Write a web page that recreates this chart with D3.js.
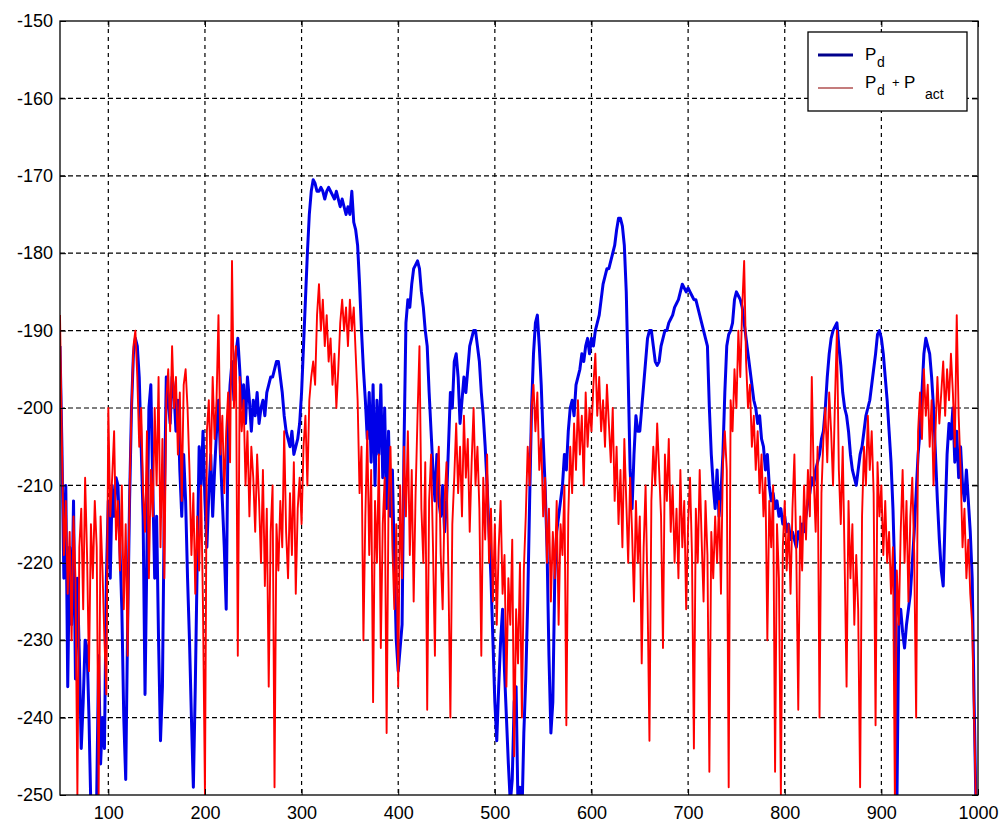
<!DOCTYPE html>
<html>
<head>
<meta charset="utf-8">
<script src="https://cdn.jsdelivr.net/npm/d3@7"></script>
<style>
body{margin:0;background:#fff;}
text{font-family:"Liberation Sans",Arial,sans-serif;fill:#000;}
</style>
</head>
<body>
<svg id="chart" width="1001" height="822"></svg>
<script>
// samples start at 50 and are spaced every 2 units
var xStart = 50;
var xStep = 2;

// P_d (blue)
var pd = [
-192,-205,-222,-210,-236,-218,-228,-212,-235,-222,
-232,-244,-238,-230,-231,-240,-252,-251,-253,-250,
-232,-246,-240,-244,-222,-212,-222,-210,-214,-209,
-210,-218,-226,-240,-248,-228,-212,-200,-193,-191,
-192,-196,-205,-214,-237,-218,-200,-197,-210,-222,
-214,-230,-243,-236,-212,-196,-199,-202,-196,-198,
-203,-199,-208,-214,-206,-212,-222,-230,-240,-249,
-236,-220,-205,-210,-203,-212,-218,-211,-206,-214,
-208,-203,-199,-206,-212,-218,-226,-202,-197,-194,
-199,-193,-191,-195,-200,-197,-202,-196,-199,-203,
-199,-201,-198,-202,-200,-199,-201,-198,-197,-196,
-196,-195,-194,-194,-196,-198,-201,-203,-204,-205,
-203,-206,-205,-204,-202,-198,-192,-186,-180,-175,
-172,-170.5,-171,-172,-172,-171.5,-172,-173,-172,-171.5,
-172,-172.5,-173,-172,-173,-174,-173,-174,-175,-174,
-175,-172,-176,-177,-179,-184,-190,-195,-199,-204,
-198,-207,-197,-210,-199,-206,-197,-209,-200,-213,
-203,-214,-208,-220,-230,-234,-231,-228,-205,-189,
-186,-187,-184,-182,-181.5,-181,-182,-185,-187,-190,
-192,-198,-203,-208,-212,-206,-212,-214,-210,-216,
-212,-205,-198,-200,-194,-193,-196,-202,-199,-196,
-198,-195,-192,-191,-190,-190,-192,-194,-198,-201,
-205,-210,-216,-222,-230,-238,-243,-236,-230,-226,
-234,-240,-246,-251,-248,-238,-236,-252,-249,-253,
-242,-235,-225,-212,-200,-193,-189,-188,-192,-197,
-204,-210,-218,-232,-242,-238,-222,-216,-214,-212,
-210,-206,-208,-203,-200,-199,-201,-197,-196,-195,
-193,-194,-192,-191,-193,-191,-192,-190,-189,-188,
-186,-184,-183,-182,-182,-181,-180,-179,-177,-175.5,
-175.5,-176.5,-179,-185,-196,-208,-213,-206,-201,-203,
-203,-200,-197,-194,-191,-190,-190,-192,-194,-194.5,
-194,-192,-191,-190,-190,-189,-188.5,-188,-187,-186.5,
-186,-185,-184,-184.5,-185,-184.5,-185,-185.5,-186,-186,
-187,-188,-189,-190,-191,-192,-200,-206,-210,-213,
-208,-214,-211,-206,-198,-192,-190.5,-190,-189,-186,
-185,-185.5,-186,-187,-189,-191,-193,-195,-197,-199,
-200,-202,-201,-204,-205,-208,-206,-210,-212,-211,
-213,-212,-214,-213,-215,-214,-216,-215,-217,-216,
-217,-218,-216,-217,-215,-216,-214,-212,-211,-209,
-210,-208,-207,-206,-204,-203,-200,-196,-193,-191,
-190,-189.5,-189,-192,-194.5,-198,-200,-201,-203,-206,
-208,-209,-210,-208,-206,-205,-203,-201,-200,-199,
-197,-195,-193,-190.5,-190,-191,-193,-196,-199,-203,
-207,-213,-222,-252,-228,-226,-229,-231,-228,-226,
-224,-220,-216,-211,-206,-203,-198,-193,-191,-192,
-193,-196,-200,-206,-212,-217,-221,-223,-214,-206,
-202,-204,-200,-207,-203,-209,-205,-210,-212,-208,
-212,-216,-222,-238,-252,-252
];

// P_d + P_act (red)
var pdAct = [
-188,-205,-219,-212,-224,-216,-230,-214,-222,-250,
-218,-213,-226,-209,-219,-234,-215,-222,-212,-218,
-250,-214,-221,-230,-237,-200,-214,-209,-203,-217,
-212,-221,-210,-226,-215,-232,-211,-200,-192,-190,
-196,-205,-200,-211,-216,-203,-222,-208,-214,-200,
-210,-196,-218,-204,-222,-199,-195,-203,-192,-200,
-196,-206,-198,-212,-197,-195,-200,-208,-219,-211,
-224,-214,-221,-210,-226,-250,-203,-199,-208,-196,
-204,-199,-188,-206,-201,-211,-203,-198,-207,-181,
-200,-192,-232,-196,-203,-199,-210,-203,-214,-205,
-209,-216,-206,-212,-220,-208,-223,-213,-236,-216,
-210,-249,-215,-221,-212,-218,-203,-216,-222,-211,
-219,-207,-224,-213,-209,-215,-205,-201,-210,-199,
-196,-194,-197,-188,-184,-190,-186,-192,-188,-194,
-191,-197,-193,-200,-195,-189,-186,-190,-187,-192,
-186,-190,-187,-193,-199,-211,-205,-230,-214,-203,
-219,-208,-238,-212,-220,-206,-231,-215,-209,-242,
-212,-205,-218,-226,-215,-236,-210,-222,-205,-214,
-203,-219,-208,-225,-211,-201,-192,-213,-220,-207,
-239,-212,-206,-218,-232,-210,-205,-219,-226,-212,
-207,-222,-240,-215,-209,-202,-211,-205,-214,-201,
-209,-204,-216,-207,-200,-210,-205,-213,-232,-209,
-217,-206,-220,-213,-225,-215,-228,-218,-212,-224,
-219,-236,-222,-228,-217,-245,-226,-233,-220,-240,
-221,-214,-205,-210,-200,-197,-203,-198,-208,-204,
-214,-209,-220,-213,-225,-216,-222,-212,-228,-215,
-219,-210,-241,-214,-205,-211,-202,-208,-199,-206,
-201,-210,-198,-205,-200,-203,-197,-193,-201,-196,
-203,-199,-205,-197,-202,-207,-200,-212,-205,-215,
-208,-218,-204,-212,-220,-209,-216,-225,-212,-220,
-214,-233,-218,-210,-224,-243,-212,-205,-210,-202,
-208,-214,-231,-206,-212,-204,-216,-210,-220,-213,
-222,-208,-218,-212,-226,-215,-209,-219,-244,-213,
-220,-208,-217,-225,-212,-219,-247,-216,-222,-214,
-220,-212,-224,-207,-203,-208,-249,-199,-203,-195,
-200,-190,-196,-187,-181,-194,-200,-197,-205,-201,
-208,-203,-211,-206,-214,-209,-230,-212,-218,-210,
-247,-215,-222,-250,-218,-212,-221,-215,-224,-213,
-206,-219,-239,-214,-221,-210,-217,-208,-214,-196,
-209,-216,-205,-240,-211,-204,-200,-207,-198,-203,
-210,-199,-190,-208,-215,-205,-220,-236,-212,-222,
-215,-228,-219,-226,-249,-214,-205,-210,-201,-208,
-203,-211,-241,-207,-214,-210,-219,-212,-220,-216,
-224,-218,-251,-221,-228,-216,-208,-220,-212,-225,
-214,-209,-219,-240,-203,-198,-204,-195,-201,-197,
-205,-199,-210,-203,-196,-202,-198,-194,-201,-195,
-199,-193,-198,-205,-188,-201,-208,-218,-213,-222,
-217,-224,-228,-240,-252,-252
];

var xTicks = [100, 200, 300, 400, 500, 600, 700, 800, 900, 1000];
var yTicks = [-250, -240, -230, -220, -210, -200, -190, -180, -170, -160, -150];
var seriesColors = ['#0000e8', '#ff0000'];

var margin = {left: 60, top: 21, right: 23, bottom: 27};
var width = 1001 - margin.left - margin.right;
var height = 822 - margin.top - margin.bottom;

var svg = d3.select('#chart');
var g = svg.append('g').attr('transform', 'translate(' + margin.left + ',' + margin.top + ')');

var x = d3.scaleLinear().domain([50, 1000]).range([0, width]);
var y = d3.scaleLinear().domain([-250, -150]).range([height, 0]);
var plain = function(d){return String(d);};

// grid
g.append('g').selectAll('line').data(xTicks.slice(0, -1))
    .enter().append('line')
    .attr('x1', function(d){return x(d);}).attr('x2', function(d){return x(d);})
    .attr('y1', 0).attr('y2', height)
    .attr('stroke', '#000').attr('stroke-width', 1.2).attr('stroke-dasharray', '4,4');
g.append('g').selectAll('line').data(yTicks.slice(1, -1))
    .enter().append('line')
    .attr('y1', function(d){return y(d);}).attr('y2', function(d){return y(d);})
    .attr('x1', 0).attr('x2', width)
    .attr('stroke', '#000').attr('stroke-width', 1.2).attr('stroke-dasharray', '5,3');

g.append('clipPath').attr('id', 'clip').append('rect')
    .attr('width', width).attr('height', height);

var line = d3.line()
    .x(function(d, i){return x(xStart + i*xStep);})
    .y(function(d){return y(d);});

var plot = g.append('g').attr('clip-path', 'url(#clip)');
plot.append('path').datum(pd)
    .attr('d', line).attr('fill', 'none')
    .attr('stroke', seriesColors[0]).attr('stroke-width', 3).attr('stroke-linejoin', 'round');
plot.append('path').datum(pdAct)
    .attr('d', line).attr('fill', 'none')
    .attr('stroke', seriesColors[1]).attr('stroke-width', 1.9).attr('stroke-linejoin', 'round');

// axes with inward ticks
function styleAxis(sel){
    sel.select('.domain').remove();
    sel.selectAll('.tick line').attr('stroke', '#000');
    sel.selectAll('text').style('font-size', '18px').attr('fill', '#000');
}
g.append('g').attr('transform', 'translate(0,' + height + ')')
    .call(d3.axisBottom(x).tickValues(xTicks).tickSize(-6).tickPadding(11).tickFormat(plain))
    .call(styleAxis);
g.append('g')
    .call(d3.axisLeft(y).tickValues(yTicks).tickSize(-6).tickPadding(7).tickFormat(plain))
    .call(styleAxis);
g.append('g')
    .call(d3.axisTop(x).tickValues(xTicks).tickSize(-6).tickFormat(''))
    .call(styleAxis);
g.append('g').attr('transform', 'translate(' + width + ',0)')
    .call(d3.axisRight(y).tickValues(yTicks).tickSize(-6).tickFormat(''))
    .call(styleAxis);

g.append('rect').attr('width', width).attr('height', height)
    .attr('fill', 'none').attr('stroke', '#000').attr('stroke-width', 1.3);

// legend
var lg = svg.append('g').attr('transform', 'translate(808,32)');
lg.append('rect').attr('width', 159).attr('height', 79)
    .attr('fill', '#fff').attr('stroke', '#000').attr('stroke-width', 1.3);
lg.append('line').attr('x1', 10).attr('x2', 45).attr('y1', 23).attr('y2', 23)
    .attr('stroke', '#00008c').attr('stroke-width', 3);
lg.append('line').attr('x1', 10).attr('x2', 45).attr('y1', 56).attr('y2', 56)
    .attr('stroke', '#b05050').attr('stroke-width', 1.3);

var t1 = lg.append('text').style('font-size', '17px');
t1.append('tspan').attr('x', 57).attr('y', 28).text('P');
t1.append('tspan').attr('x', 69).attr('y', 35).style('font-size', '14px').text('d');

var t2 = lg.append('text').style('font-size', '17px');
t2.append('tspan').attr('x', 57).attr('y', 56).text('P');
t2.append('tspan').attr('x', 69).attr('y', 63).style('font-size', '14px').text('d');
t2.append('tspan').attr('x', 84).attr('y', 55).style('font-size', '13px').text('+');
t2.append('tspan').attr('x', 96).attr('y', 56).text('P');
t2.append('tspan').attr('x', 117).attr('y', 67).style('font-size', '14px').text('act');
</script>
</body>
</html>
